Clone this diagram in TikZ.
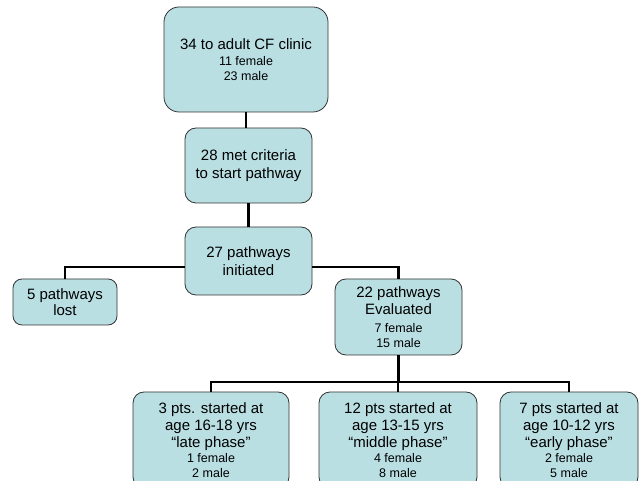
\documentclass[tikz,border=0pt]{standalone}
\usepackage{fontspec}
\setmainfont{Liberation Sans}
\usepackage{xcolor}
\usepackage{tikz}

\definecolor{boxfill}{RGB}{185,223,227}
\newcommand{\mainsz}{\fontsize{15}{18}\selectfont}
\newcommand{\subsz}{\fontsize{12.5}{15}\selectfont}

\begin{document}
\begin{tikzpicture}[x=1pt, y=-1pt,
        stage/.style={draw=black!80, line width=0.8pt, fill=boxfill, rounded corners=11pt,
            align=center, font=\mainsz, inner sep=0pt},
        link/.style={line width=2.6pt, black}]
        \clip (0,0) rectangle (641,481);

        \node[stage, rounded corners=15pt, minimum width=164pt, minimum height=105pt] (clinic) at (246,59.5)
            {34 to adult CF clinic\\[-2pt]{\subsz 11 female}\\[-3pt]{\subsz 23 male}};
        \node[stage, minimum width=127pt, minimum height=75pt] (criteria) at (248.5,165.5)
            {28 met criteria\\to start pathway};
        \node[stage, minimum width=127pt, minimum height=68pt] (initiated) at (248.5,261)
            {27 pathways\\initiated};
        \node[stage, rounded corners=9pt, minimum width=104pt, minimum height=46pt] (lost) at (65,302)
            {5 pathways\\[-2pt]lost};
        \node[stage, minimum width=127pt, minimum height=76pt] (evaluated) at (398.5,317)
            {22 pathways\\[-1pt]Evaluated\\{\subsz 7 female}\\[-3pt]{\subsz 15 male}};

        \node[stage, minimum width=156pt, minimum height=96pt] (late) at (211,440)
            {3 pts. started at\\[-1pt]age 16-18 yrs\\[-1pt]“late phase”\\[-3pt]{\subsz 1 female}\\[-3pt]{\subsz 2 male}};
        \node[stage, minimum width=158pt, minimum height=96pt] (middle) at (398,440)
            {12 pts started at\\[-1pt]age 13-15 yrs\\[-1pt]“middle phase”\\[-3pt]{\subsz 4 female}\\[-3pt]{\subsz 8 male}};
        \node[stage, minimum width=138pt, minimum height=96pt] (early) at (569,440)
            {7 pts started at\\[-1pt]age 10-12 yrs\\[-1pt]“early phase”\\[-3pt]{\subsz 2 female}\\[-3pt]{\subsz 5 male}};

        % connectors
        \draw[link] (clinic.south) -- (clinic.south |- criteria.north);
        \draw[link] (criteria.south) -- (initiated.north);
        \draw[link] ([yshift=-6pt]initiated.west) -| (lost.north);
        \draw[link] ([yshift=-6pt]initiated.east) -| (evaluated.north);

        \coordinate (fork) at (evaluated.south |- 0,382);
        \draw[link] (evaluated.south) -- (fork);
        \draw[link] (fork) -| (late.north);
        \draw[link] (fork) -| (middle.north);
        \draw[link] (fork) -| (early.north);
    \end{tikzpicture}
\end{document}
